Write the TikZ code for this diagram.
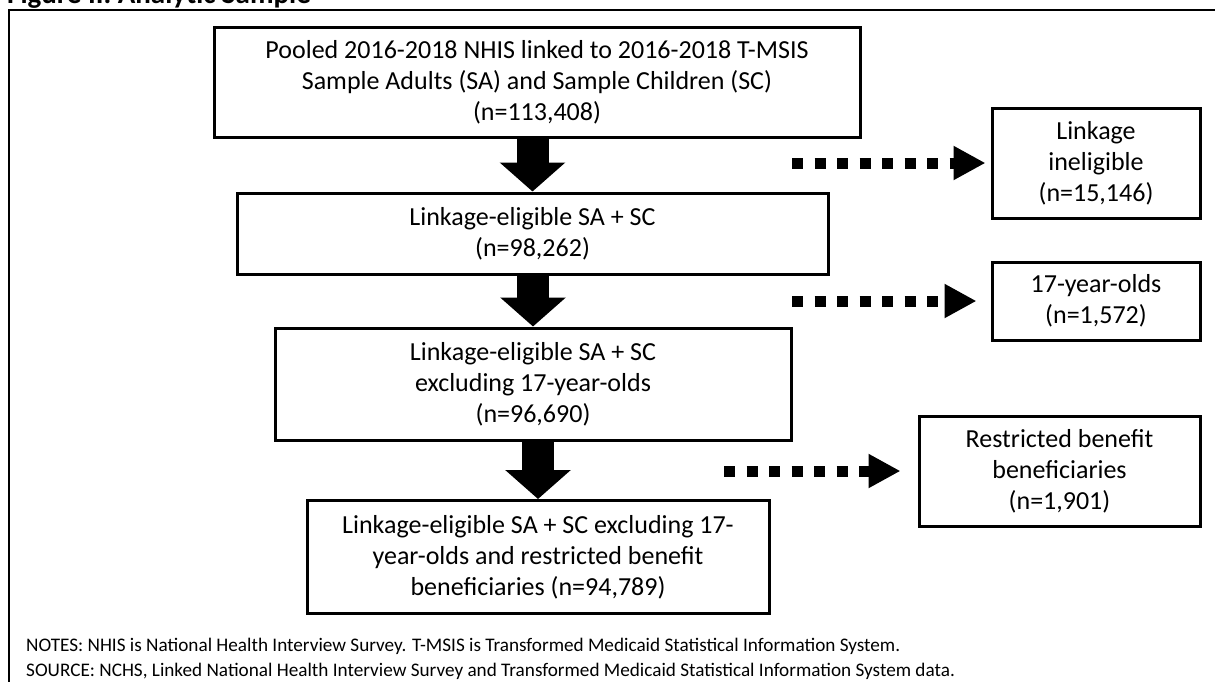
\documentclass[tikz,border=0pt]{standalone}
\usepackage{fontspec}
\setmainfont{Carlito}
\usetikzlibrary{arrows.meta}
\begin{document}
\begin{tikzpicture}[x=1pt,y=-1pt,
  box/.style={draw=black,line width=3pt,align=center,inner sep=0pt,
    font=\fontsize{26}{31}\selectfont},
  bigarrow/.style={line width=32pt,-{Triangle[width=64pt,length=29pt]}},
  dotarrow/.style={line width=11pt,dash pattern=on 11pt off 11.5pt,
    -{Triangle[width=32pt,length=32pt]}},
  notes/.style={anchor=base west,inner sep=0pt,font=\fontsize{19.2}{23}\selectfont}]
\useasboundingbox (0,0) rectangle (1215,681);
\fill[white] (0,0) rectangle (1215,681);
% outer frame
\draw[line width=2.5pt] (9,690) -- (9,10) -- (1225,10);
\node[anchor=base west,inner sep=0pt,font=\fontsize{29}{32}\selectfont\bfseries] (title) at (7,3) {Figure II. Analytic Sample};
% main boxes
\node[box,minimum width=646pt,minimum height=110pt] (b1) at (537,82)
  {Pooled 2016-2018 NHIS linked to 2016-2018 T-MSIS\\Sample Adults (SA) and Sample Children (SC)\\(n=113,408)};
\node[box,minimum width=591pt,minimum height=81pt] (b2) at (532.5,233.5)
  {Linkage-eligible SA + SC\\(n=98,262)};
\node[box,minimum width=516pt,minimum height=112pt] (b3) at (533,384)
  {Linkage-eligible SA + SC\\excluding 17-year-olds\\(n=96,690)};
\node[box,minimum width=462pt,minimum height=113pt] (b4) at (538,557)
  {Linkage-eligible SA + SC excluding 17-\\year-olds and restricted benefit\\beneficiaries (n=94,789)};
% side boxes
\node[box,minimum width=208pt,minimum height=110pt] (r1) at (1096,163)
  {Linkage\\ineligible\\(n=15,146)};
\node[box,minimum width=208pt,minimum height=78pt] (r2) at (1096,301)
  {17-year-olds\\(n=1,572)};
\node[box,minimum width=281pt,minimum height=110pt] (r3) at (1059.5,471)
  {Restricted benefit\\beneficiaries\\(n=1,901)};
% thick down arrows
\draw[bigarrow] (b1.south -| b2.north) -- (b2.north);
\draw[bigarrow] (b2.south -| b3.north) -- (b3.north);
\draw[bigarrow] (b3.south -| b4.north) -- (b4.north);
% dotted arrows
\coordinate (d1) at (792,163);
\coordinate (d2) at (792,301);
\coordinate (d3) at (724,471);
\draw[dotarrow,shorten >=5pt] (d1) -- (r1.west |- d1);
\draw[dotarrow,shorten >=14pt] (d2) -- (r2.west |- d2);
\draw[dotarrow,shorten >=17pt] (d3) -- (r3.west |- d3);
% notes
\node[notes] (n1) at (26,651) {NOTES: NHIS is National Health Interview Survey. T-MSIS is Transformed Medicaid Statistical Information System.};
\node[notes] (n2) at (26,676) {SOURCE: NCHS, Linked National Health Interview Survey and Transformed Medicaid Statistical Information System data.};
\end{tikzpicture}
\end{document}
